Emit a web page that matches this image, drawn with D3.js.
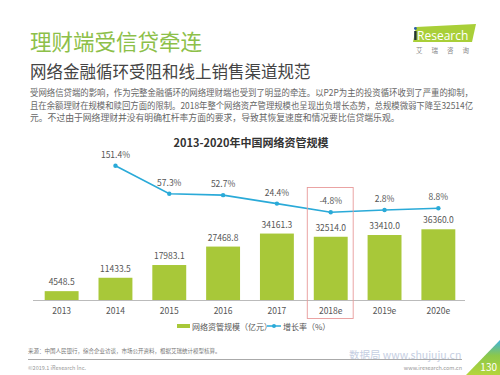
<!DOCTYPE html>
<html><head><meta charset="utf-8">
<script src="https://cdn.jsdelivr.net/npm/d3@7"></script>
<style>
html,body{margin:0;padding:0;background:#fff;}
svg{display:block;font-family:"Noto Sans CJK SC","Noto Sans",sans-serif;}
</style></head>
<body>
<script>
const categories = ["2013","2014","2015","2016","2017","2018e","2019e","2020e"];
const scaleValues = [4548.5,11433.5,17983.1,27468.8,34161.3,32514.0,33410.0,36360.0];
const growthValues = [null,151.4,57.3,52.7,24.4,-4.8,2.8,8.8];
const scaleLabels = ["4548.5","11433.5","17983.1","27468.8","34161.3","32514.0","33410.0","36360.0"];
const growthLabels = ["","151.4%","57.3%","52.7%","24.4%","-4.8%","2.8%","8.8%"];
const legendNames = ["网络资管规模（亿元）","增长率（%）"];
const highlightCategory = "2018e";

const W=500,H=375;
const svg=d3.select("body").append("svg").attr("width",W).attr("height",H);

const green="#a8c839", blue="#2aaad8", titleGreen="#8dc049";

// Header
svg.append("text").attr("x",30).attr("y",50).attr("font-size",21.5).attr("fill",titleGreen).text("理财端受信贷牵连");
svg.append("text").attr("x",30).attr("y",78).attr("font-size",16.5).attr("fill","#444").text("网络金融循环受阻和线上销售渠道规范");
const para=["受网络信贷端的影响，作为完整金融循环的网络理财端也受到了明显的牵连。以P2P为主的投资循环收到了严重的抑制，",
"且在余额理财在规模和赎回方面的限制。2018年整个网络资产管理规模也呈现出负增长态势，总规模微弱下降至32514亿",
"元。不过由于网络理财并没有明确杠杆率方面的要求，导致其恢复速度和情况要比信贷端乐观。"];
para.forEach((t,i)=>{
  const tx=svg.append("text").attr("x",30).attr("y",96+i*12.5).attr("font-size",8.8).attr("fill","#666").text(t);
  if(i<2) tx.attr("textLength",443).attr("lengthAdjust","spacingAndGlyphs");
});

// Logo
svg.append("polygon").attr("points","416,27 476,24 472,42 413,42").attr("fill","#a9cf38");
svg.append("text").attr("x",414).attr("y",39.5).attr("font-size",12).attr("font-family","Open Sans,sans-serif").attr("fill","#fff").text("iResearch");
svg.append("rect").attr("x",414.2).attr("y",31).attr("width",2.4).attr("height",9).attr("fill","#233");
svg.append("circle").attr("cx",415.4).attr("cy",28.5).attr("r",1.4).attr("fill","#2a5fa8");
svg.append("text").attr("x",416).attr("y",53).attr("font-size",6.5).attr("fill","#888").attr("letter-spacing",9).text("艾瑞咨询");

// Chart title
svg.append("text").attr("x",251).attr("y",147).attr("text-anchor","middle").attr("font-size",11).attr("font-weight","bold").attr("fill","#333").text("2013-2020年中国网络资管规模");

// Scales
const x=d3.scaleBand().domain(categories).range([35,465]).paddingInner(0.37).paddingOuter(0.18);
const y=d3.scaleLinear().domain([0,40000]).range([300,222.2]);
const y2=d3.scaleLinear().domain([-50,200]).range([225.8,151.2]);

// Bars
svg.append("g").selectAll("rect").data(categories).join("rect")
  .attr("x",d=>x(d)).attr("width",x.bandwidth())
  .attr("y",(d,i)=>y(scaleValues[i])).attr("height",(d,i)=>y(0)-y(scaleValues[i]))
  .attr("fill",green);
svg.append("g").selectAll("text").data(categories).join("text")
  .attr("x",d=>x(d)+x.bandwidth()/2).attr("y",(d,i)=>y(scaleValues[i])-6)
  .attr("text-anchor","middle").attr("font-size",8.5).attr("fill","#555")
  .text((d,i)=>scaleLabels[i]);

// Axis
const ax=svg.append("g").attr("transform","translate(0,300)").call(d3.axisBottom(x).tickSize(0).tickPadding(8));
ax.select(".domain").attr("stroke","#bbb").attr("d","M33,0.5H465");
ax.selectAll("text").attr("font-size",8.5).attr("fill","#555").attr("font-family","Noto Sans CJK SC,sans-serif");

// Line
const pts=categories.map((c,i)=>({c,v:growthValues[i],l:growthLabels[i]})).filter(d=>d.v!==null);
const line=d3.line().x(d=>x(d.c)+x.bandwidth()/2).y(d=>y2(d.v));
svg.append("path").datum(pts).attr("d",line).attr("fill","none").attr("stroke",blue).attr("stroke-width",1.6);
svg.append("g").selectAll("circle").data(pts).join("circle")
  .attr("cx",d=>x(d.c)+x.bandwidth()/2).attr("cy",d=>y2(d.v)).attr("r",2.2).attr("fill",blue);
svg.append("g").selectAll("text").data(pts).join("text")
  .attr("x",d=>x(d.c)+x.bandwidth()/2).attr("y",d=>y2(d.v)-8)
  .attr("text-anchor","middle").attr("font-size",8.5).attr("fill","#555").text(d=>d.l);

// Highlight box
const hx=x(highlightCategory);
svg.append("rect").attr("x",hx-6.5).attr("y",187.5).attr("width",x.bandwidth()+12).attr("height",131)
  .attr("fill","none").attr("stroke","#e89a9a").attr("stroke-width",0.9);

// Legend
svg.append("rect").attr("x",177).attr("y",324).attr("width",13).attr("height",4).attr("fill",green);
svg.append("text").attr("x",192).attr("y",329.5).attr("font-size",8).attr("fill","#555").text(legendNames[0]);
svg.append("line").attr("x1",267).attr("x2",281).attr("y1",326).attr("y2",326).attr("stroke",blue).attr("stroke-width",1.5);
svg.append("circle").attr("cx",274).attr("cy",326).attr("r",2).attr("fill",blue);
svg.append("text").attr("x",283).attr("y",329.5).attr("font-size",8).attr("fill","#555").text(legendNames[1]);

// Footer
svg.append("text").attr("x",28).attr("y",353).attr("font-size",5.5).attr("fill","#777").text("来源：中国人民银行，综合企业访谈，市场公开资料，根据艾瑞统计模型核算。");
svg.append("text").attr("x",349).attr("y",359).attr("font-size",10.5).attr("fill","#b8c4dc").attr("opacity",0.8).text("数据局 www.shujuju.cn");
svg.append("line").attr("x1",28).attr("x2",462).attr("y1",359.5).attr("y2",359.5).attr("stroke","#aaa").attr("stroke-width",1.2);
svg.append("text").attr("x",28).attr("y",369.5).attr("font-size",5.5).attr("fill","#999").text("©2019.1 iResearch Inc.");
svg.append("text").attr("x",462).attr("y",369.5).attr("text-anchor","end").attr("font-size",5.5).attr("fill","#999").text("www.iresearch.com.cn");

// Corner
const defs=svg.append("defs");
const g=defs.append("linearGradient").attr("id","cg").attr("x1","0").attr("y1","0").attr("x2","0").attr("y2","1");
g.append("stop").attr("offset","0").attr("stop-color","#3fb3de");
g.append("stop").attr("offset","0.45").attr("stop-color","#8cc84a");
g.append("stop").attr("offset","1").attr("stop-color","#b5d53a");
svg.append("polygon").attr("points","500,340 500,375 466,375").attr("fill","url(#cg)");
svg.append("text").attr("x",497).attr("y",371).attr("text-anchor","end").attr("font-size",10).attr("fill","#fff").text("130");
</script>
</body></html>
